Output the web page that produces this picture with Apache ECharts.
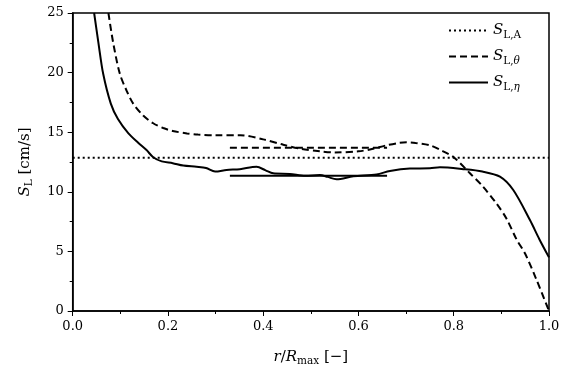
<!DOCTYPE html>
<html>
<head>
<meta charset="utf-8">
<script src="https://cdn.jsdelivr.net/npm/echarts@6/dist/echarts.min.js"></script>
<style>html,body{margin:0;padding:0;background:#fff}#c{width:570px;height:380px}</style>
</head>
<body>
<div id="c"></div>
<script>
// ---- data ----
var xTicks = [0.0, 0.2, 0.4, 0.6, 0.8, 1.0];
var yTicks = [0, 5, 10, 15, 20, 25];

var slA_x = [0.0, 1.0];
var slA_y = [12.85, 12.85];

var slTheta_x = [0.075,0.085,0.099,0.113,0.127,0.148,0.169,0.19,0.21,0.24,0.263,0.3,0.352,0.4,0.442,0.48,0.519,0.55,0.6,0.624,0.659,0.685,0.701,0.72,0.75,0.775,0.80,0.834,0.86,0.89,0.91,0.932,0.95,0.974,1.0];
var slTheta_y = [25,22.5,19.9,18.5,17.4,16.4,15.75,15.35,15.1,14.9,14.8,14.75,14.75,14.4,13.95,13.6,13.4,13.3,13.4,13.55,13.9,14.1,14.15,14.1,13.9,13.45,12.9,11.55,10.5,9.0,7.8,6.0,4.8,2.6,0.0];

var slEta_x = [0.045,0.054,0.064,0.08,0.095,0.117,0.138,0.155,0.169,0.187,0.21,0.232,0.26,0.28,0.299,0.323,0.351,0.386,0.405,0.421,0.456,0.488,0.519,0.535,0.554,0.589,0.638,0.666,0.708,0.75,0.771,0.82,0.86,0.897,0.925,0.96,0.98,1.0];
var slEta_y = [25,22.5,19.9,17.4,16.1,14.9,14.1,13.5,12.9,12.55,12.4,12.2,12.1,12.0,11.7,11.83,11.9,12.1,11.8,11.55,11.5,11.35,11.4,11.25,11.05,11.3,11.45,11.75,11.95,11.97,12.05,11.9,11.7,11.27,10.15,7.63,6.0,4.5];

var meanTheta_x = [0.33, 0.66];
var meanTheta_y = [13.7, 13.7];
var meanEta_x = [0.33, 0.66];
var meanEta_y = [11.35, 11.35];

function zip(a, b) { return a.map(function (v, i) { return [v, b[i]]; }); }

var FONT = 'DejaVu Serif';
var richBase = {
  i: { fontFamily: FONT, fontStyle: 'italic', fontSize: 15, color: '#000', lineHeight: 20 },
  n: { fontFamily: FONT, fontSize: 15, color: '#000', lineHeight: 20 },
  sub: { fontFamily: FONT, fontSize: 10.5, color: '#000', lineHeight: 10, verticalAlign: 'bottom' },
  subi: { fontFamily: FONT, fontStyle: 'italic', fontSize: 10.5, color: '#000', lineHeight: 10, verticalAlign: 'bottom' }
};

var legendLabels = {
  'SLA': '{i|S}{sub|L,A}',
  'SLtheta': '{i|S}{sub|L,}{subi|θ}',
  'SLeta': '{i|S}{sub|L,}{subi|η}'
};

var chart = echarts.init(document.getElementById('c'), null, { renderer: 'canvas' });
chart.setOption({
  animation: false,
  backgroundColor: '#fff',
  grid: { left: 72.7, right: 21, top: 13, bottom: 69, show: true, borderColor: '#000', borderWidth: 1.5, backgroundColor: 'transparent' },
  xAxis: {
    type: 'value', min: 0, max: 1, interval: 0.2,
    axisLine: { show: true, onZero: false, lineStyle: { color: '#000', width: 1.5 } },
    axisTick: { show: true, inside: false, length: 5, lineStyle: { color: '#000', width: 1 } },
    minorTick: { show: true, splitNumber: 2, length: 3, lineStyle: { color: '#000', width: 1 } },
    splitLine: { show: false },
    axisLabel: { fontFamily: FONT, fontSize: 13, color: '#000', margin: 9, formatter: function (v) { return v.toFixed(1); } },
    name: '{i|r}{n|/}{i|R}{sub|max}{n| [−]}',
    nameLocation: 'middle', nameGap: 36,
    nameTextStyle: { rich: richBase }
  },
  yAxis: {
    type: 'value', min: 0, max: 25, interval: 5,
    axisLine: { show: true, onZero: false, lineStyle: { color: '#000', width: 1.5 } },
    axisTick: { show: true, inside: false, length: 5, lineStyle: { color: '#000', width: 1 } },
    minorTick: { show: true, splitNumber: 2, length: 3, lineStyle: { color: '#000', width: 1 } },
    splitLine: { show: false },
    axisLabel: { fontFamily: FONT, fontSize: 13, color: '#000', margin: 9 },
    name: '{i|S}{sub|L}{n| [cm/s]}',
    nameLocation: 'middle', nameGap: 38, nameRotate: 90,
    nameTextStyle: { rich: richBase }
  },
  legend: {
    orient: 'vertical', left: 443, top: 18,
    itemWidth: 39, itemHeight: 14, itemGap: 8.5,
    data: ['SLA', 'SLtheta', 'SLeta'],
    itemStyle: { opacity: 0, borderWidth: 0 },
    formatter: function (name) { return legendLabels[name]; },
    textStyle: { padding: [0, 0, 0, 0], rich: richBase }
  },
  series: [
    { name: 'SLA', type: 'line', data: zip(slA_x, slA_y), showSymbol: false, symbol: 'none',
      lineStyle: { color: '#000', width: 2, type: [2, 3] }, itemStyle: { color: '#000' } },
    { name: 'SLtheta', type: 'line', data: zip(slTheta_x, slTheta_y), showSymbol: false, symbol: 'none', smooth: 0.3,
      lineStyle: { color: '#000', width: 2, type: [7, 4] }, itemStyle: { color: '#000' } },
    { name: 'SLeta', type: 'line', data: zip(slEta_x, slEta_y), showSymbol: false, symbol: 'none', smooth: 0.3,
      lineStyle: { color: '#000', width: 2, type: 'solid' }, itemStyle: { color: '#000' } },
    { name: 'meanTheta', type: 'line', data: zip(meanTheta_x, meanTheta_y), showSymbol: false, symbol: 'none',
      lineStyle: { color: '#000', width: 2, type: [7, 4] } },
    { name: 'meanEta', type: 'line', data: zip(meanEta_x, meanEta_y), showSymbol: false, symbol: 'none',
      lineStyle: { color: '#000', width: 2, type: 'solid' } }
  ]
});
</script>
</body>
</html>
